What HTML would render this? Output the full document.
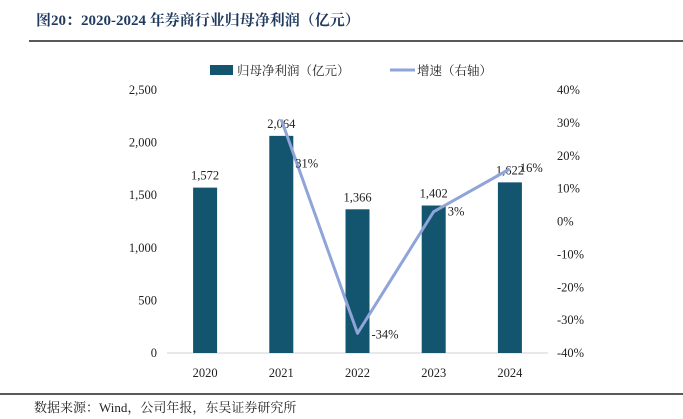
<!DOCTYPE html>
<html><head><meta charset="utf-8"><style>
body{margin:0;background:#fff;width:683px;height:419px;overflow:hidden;font-family:"Liberation Serif","Noto Serif CJK SC",serif}
</style></head><body>
<svg width="683" height="419" style="position:absolute;left:0;top:0">
<text x="36" y="25" font-size="15" font-weight="bold" fill="#1f3a5f" font-family="Liberation Serif, Noto Serif CJK SC, serif">图20：2020-2024 年券商行业归母净利润（亿元）</text>
<line x1="29" y1="41" x2="683" y2="41" stroke="#222" stroke-width="1.5"/>
<g font-size="12.5" font-family="Liberation Serif, Noto Serif CJK SC, serif" fill="#222">
<rect x="210" y="65" width="23" height="10" fill="#13546f"/>
<text x="237" y="75">归母净利润（亿元）</text>
<line x1="390" y1="70" x2="415" y2="70" stroke="#8fa4d8" stroke-width="3"/>
<text x="417" y="75">增速（右轴）</text>
</g>
<g id="axes"></g>
<g id="marks"></g>
<line x1="0" y1="394" x2="683" y2="394" stroke="#222" stroke-width="1.5"/>
<text x="34" y="412" font-size="13" fill="#222">数据来源：Wind，公司年报，东吴证券研究所</text>
</svg>
<script>
const categories=["2020","2021","2022","2023","2024"];
const profit=[1572,2064,1366,1402,1622];
const growth=[null,31,-34,3,16];
const leftTicks=[0,500,1000,1500,2000,2500];
const rightTicks=[-40,-30,-20,-10,0,10,20,30,40];
const NS="http://www.w3.org/2000/svg";
const x0=167,x1=548,yTop=90,yBot=353;
const step=(x1-x0)/categories.length;
const xC=i=>x0+step*(i+0.5);
const yL=v=>yBot-(v/2500)*(yBot-yTop);
const yR=v=>yBot-((v+40)/80)*(yBot-yTop);
function mk(tag,attrs,parent,text){const e=document.createElementNS(NS,tag);for(const k in attrs)e.setAttribute(k,attrs[k]);if(text!=null)e.textContent=text;parent.appendChild(e);return e;}
const ax=document.getElementById('axes'),mg=document.getElementById('marks');
const base=mk('line',{x1:x0,y1:yBot,x2:x1,y2:yBot,stroke:'#d0d0d0','stroke-width':1},ax);


leftTicks.forEach(t=>{const e=mk('text',{x:157,y:yL(t)+4,'text-anchor':'end','font-size':12.5,fill:'#222'},ax,t.toLocaleString('en-US'));

});
rightTicks.forEach(t=>{const e=mk('text',{x:557,y:yR(t)+4,'font-size':12.5,fill:'#222'},ax,t+'%');

});
categories.forEach((c,i)=>{const e=mk('text',{x:xC(i),y:377,'text-anchor':'middle','font-size':12.5,fill:'#222'},ax,c);

});
const bw=24;
profit.forEach((v,i)=>{const r=mk('rect',{x:xC(i)-bw/2,y:yL(v),width:bw,height:yBot-yL(v),fill:'#13546f'},mg);


const t=mk('text',{x:xC(i),y:yL(v)-8,'text-anchor':'middle','font-size':12.5,fill:'#222'},mg,v.toLocaleString('en-US'));

});
const pts=[];growth.forEach((g,i)=>{if(g!=null)pts.push([xC(i),yR(g),g]);});
const pl=mk('polyline',{points:pts.map(p=>p[0]+','+p[1]).join(' '),fill:'none',stroke:'#8fa4d8','stroke-width':3,'stroke-linejoin':'round'},mg);


pts.forEach(p=>{const t=mk('text',{x:p[0]+14,y:p[1]+48,'font-size':12.5,fill:'#222'},mg,p[2]+'%');
if(p[2]<0){t.setAttribute('y',p[1]+5);}
if(p[2]===16){t.setAttribute('y',p[1]+3);t.setAttribute('x',p[0]+10);}
if(p[2]===3){t.setAttribute('y',p[1]+4);}

});
</script>
</body></html>
